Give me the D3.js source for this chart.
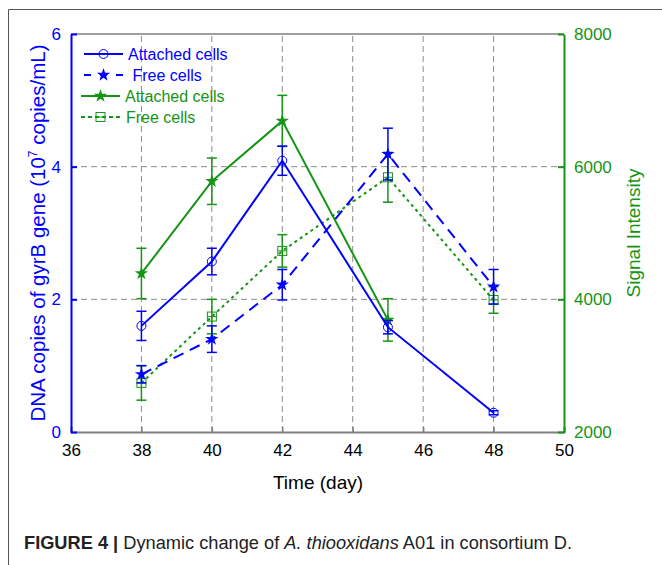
<!DOCTYPE html>
<html>
<head>
<meta charset="utf-8">
<script src="https://cdn.jsdelivr.net/npm/d3@7"></script>
<style>
	body { margin: 0; background: #fff; }
	svg { display: block; font-family: "Liberation Sans", Arial, sans-serif; }
</style>
</head>
<body>
<div id="chart"></div>
<script>
// Data
const days = [38, 40, 42, 45, 48];
const blueAttached = [1.6, 2.57, 4.09, 1.58, 0.29];
const blueAttachedErr = [0.22, 0.2, 0.22, 0.1, 0.03];
const blueFree = [0.87, 1.4, 2.22, 4.19, 2.19];
const blueFreeErr = [0.13, 0.2, 0.23, 0.39, 0.26];
const greenAttachedDays = [38, 40, 42, 45];
const greenAttached = [4390, 5780, 6690, 3690];
const greenAttachedErr = [380, 350, 385, 320];
const greenFree = [2740, 3740, 4730, 5840, 3990];
const greenFreeErr = [260, 260, 245, 375, 200];
const xTicks = [36, 38, 40, 42, 44, 46, 48, 50];
const yLeftTicks = [0, 2, 4, 6];
const yRightTicks = [2000, 4000, 6000, 8000];

const blue = '#0000ff';
const green = '#169416';
const grid = '#8c8c8c';

const width = 662, height = 565;
const margin = { left: 71, right: 98, top: 34, bottom: 133 };

const svg = d3.select('#chart').append('svg')
	.attr('width', width)
	.attr('height', height);

// Outer figure frame (left and top only)
svg.append('path')
	.attr('d', 'M8.5,' + height + 'V9.5H' + width)
	.attr('fill', 'none')
	.attr('stroke', '#555')
	.attr('stroke-width', 1);

const x = d3.scaleLinear().domain([36, 50]).range([margin.left, width - margin.right]);
const yL = d3.scaleLinear().domain([0, 6]).range([height - margin.bottom, margin.top]);
const yR = d3.scaleLinear().domain([2000, 8000]).range([height - margin.bottom, margin.top]);

// Grid lines
svg.append('g').selectAll('line')
	.data(xTicks.slice(1, -1))
	.join('line')
	.attr('x1', d => x(d)).attr('x2', d => x(d))
	.attr('y1', yL(0)).attr('y2', yL(6))
	.attr('stroke', grid).attr('stroke-width', 1).attr('stroke-dasharray', '6,4');

svg.append('g').selectAll('line')
	.data(yLeftTicks.slice(1, -1))
	.join('line')
	.attr('x1', x(36)).attr('x2', x(50))
	.attr('y1', d => yL(d)).attr('y2', d => yL(d))
	.attr('stroke', grid).attr('stroke-width', 1).attr('stroke-dasharray', '6,4');

// Top border
svg.append('line')
	.attr('x1', x(36)).attr('x2', x(50))
	.attr('y1', yL(6)).attr('y2', yL(6))
	.attr('stroke', '#808080').attr('stroke-width', 1.5);

// X axis
const xAxis = svg.append('g')
	.attr('transform', 'translate(0,' + yL(0) + ')')
	.call(d3.axisBottom(x).tickValues(xTicks).tickFormat(d3.format('d')).tickSize(-5).tickPadding(12));
xAxis.select('.domain').attr('stroke', '#808080').attr('stroke-width', 2);
xAxis.selectAll('.tick line').attr('stroke', '#808080').attr('stroke-width', 1.5);
xAxis.selectAll('text').attr('font-size', 17).attr('fill', '#000');

// Left axis
const yAxisL = svg.append('g')
	.attr('transform', 'translate(' + x(36) + ',0)')
	.call(d3.axisLeft(yL).tickValues(yLeftTicks).tickFormat(d3.format('d')).tickSize(-6).tickPadding(10).tickSizeOuter(0));
yAxisL.select('.domain').attr('stroke', blue).attr('stroke-width', 2);
yAxisL.selectAll('.tick line').attr('stroke', blue).attr('stroke-width', 2);
yAxisL.selectAll('text').attr('font-size', 17).attr('fill', blue);

// Right axis
const yAxisR = svg.append('g')
	.attr('transform', 'translate(' + x(50) + ',0)')
	.call(d3.axisRight(yR).tickValues(yRightTicks).tickFormat(d3.format('d')).tickSize(-6).tickPadding(10).tickSizeOuter(0));
yAxisR.select('.domain').attr('stroke', green).attr('stroke-width', 2);
yAxisR.selectAll('.tick line').attr('stroke', green).attr('stroke-width', 2);
yAxisR.selectAll('text').attr('font-size', 17).attr('fill', green);

// Axis titles
const yTitle = svg.append('text')
	.attr('transform', 'translate(45,' + ((yL(0) + yL(6)) / 2) + ') rotate(-90)')
	.attr('text-anchor', 'middle')
	.attr('font-size', 20.5)
	.attr('fill', blue);
yTitle.append('tspan').text('DNA copies of gyrB gene (10');
yTitle.append('tspan').attr('font-size', 12).attr('dy', -8).text('7');
yTitle.append('tspan').attr('dy', 8).text(' copies/mL)');

svg.append('text')
	.attr('transform', 'translate(640,' + ((yL(0) + yL(6)) / 2) + ') rotate(-90)')
	.attr('text-anchor', 'middle')
	.attr('font-size', 19)
	.attr('fill', green)
	.text('Signal Intensity');

svg.append('text')
	.attr('x', 318).attr('y', 489)
	.attr('text-anchor', 'middle')
	.attr('font-size', 19)
	.attr('fill', '#000')
	.text('Time (day)');

// Series drawing
const series = [
	{ xs: days, ys: greenFree, err: greenFreeErr, y: yR, color: green, dash: '3,3.5', marker: 'square' },
	{ xs: greenAttachedDays, ys: greenAttached, err: greenAttachedErr, y: yR, color: green, dash: null, marker: 'star' },
	{ xs: days, ys: blueFree, err: blueFreeErr, y: yL, color: blue, dash: '11,7', marker: 'star' },
	{ xs: days, ys: blueAttached, err: blueAttachedErr, y: yL, color: blue, dash: null, marker: 'circle' }
];

const drawMarker = function(g, marker, color, cx, cy) {
	if (marker === 'circle') {
		g.append('circle').attr('cx', cx).attr('cy', cy).attr('r', 4.5)
			.attr('fill', 'none').attr('stroke', color).attr('stroke-width', 1);
	}
	else if (marker === 'square') {
		g.append('rect').attr('x', cx - 4.5).attr('y', cy - 4.5).attr('width', 9).attr('height', 9)
			.attr('fill', 'none').attr('stroke', color).attr('stroke-width', 1);
		g.append('line').attr('x1', cx - 4.5).attr('x2', cx + 4.5).attr('y1', cy).attr('y2', cy)
			.attr('stroke', color).attr('stroke-width', 1);
	}
	else {
		g.append('path')
			.attr('transform', 'translate(' + cx + ',' + cy + ')')
			.attr('d', d3.symbol(d3.symbolStar, 55)())
			.attr('fill', color);
	}
};

for (const s of series) {
	const g = svg.append('g');
	const pts = s.xs.map((d, i) => [x(d), s.y(s.ys[i])]);

	// Error bars
	s.xs.forEach((d, i) => {
		const cx = x(d), top = s.y(s.ys[i] + s.err[i]), bot = s.y(s.ys[i] - s.err[i]);
		g.append('line').attr('x1', cx).attr('x2', cx).attr('y1', top).attr('y2', bot)
			.attr('stroke', s.color).attr('stroke-width', 1.5);
		for (const yy of [top, bot]) {
			g.append('line').attr('x1', cx - 5).attr('x2', cx + 5).attr('y1', yy).attr('y2', yy)
				.attr('stroke', s.color).attr('stroke-width', 1.5);
		}
	});

	g.append('path')
		.attr('d', d3.line()(pts))
		.attr('fill', 'none')
		.attr('stroke', s.color)
		.attr('stroke-width', 2)
		.attr('stroke-dasharray', s.dash);

	pts.forEach(p => drawMarker(g, s.marker, s.color, p[0], p[1]));
}

// Legend
const legendItems = [
	{ label: 'Attached cells', color: blue, dash: null, marker: 'circle', x1: 84, x2: 123, tx: 128 },
	{ label: ' Free cells', color: blue, dash: '7,9', marker: 'star', x1: 84, x2: 123, tx: 128 },
	{ label: 'Attached cells', color: green, dash: null, marker: 'star', x1: 81, x2: 120, tx: 125 },
	{ label: 'Free cells', color: green, dash: '4,3', marker: 'square', x1: 81, x2: 120, tx: 126 }
];
const legend = svg.append('g');
legendItems.forEach((d, i) => {
	const ly = 54 + i * 21;
	legend.append('line')
		.attr('x1', d.x1).attr('x2', d.x2).attr('y1', ly).attr('y2', ly)
		.attr('stroke', d.color).attr('stroke-width', 2)
		.attr('stroke-dasharray', d.dash);
	drawMarker(legend, d.marker, d.color, (d.x1 + d.x2) / 2, ly);
	legend.append('text')
		.attr('x', d.tx).attr('y', ly + 6)
		.attr('font-size', 16)
		.attr('fill', d.color)
		.attr('xml:space', 'preserve')
		.style('white-space', 'pre')
		.text(d.label);
});

// Caption
const caption = svg.append('text')
	.attr('x', 24).attr('y', 549)
	.attr('font-size', 18)
	.attr('textLength', 548)
	.attr('lengthAdjust', 'spacingAndGlyphs')
	.attr('fill', '#222');
caption.append('tspan').attr('font-weight', 'bold').text('FIGURE 4 | ');
caption.append('tspan').text('Dynamic change of ');
caption.append('tspan').attr('font-style', 'italic').text('A. thiooxidans');
caption.append('tspan').text(' A01 in consortium D.');
</script>
</body>
</html>
